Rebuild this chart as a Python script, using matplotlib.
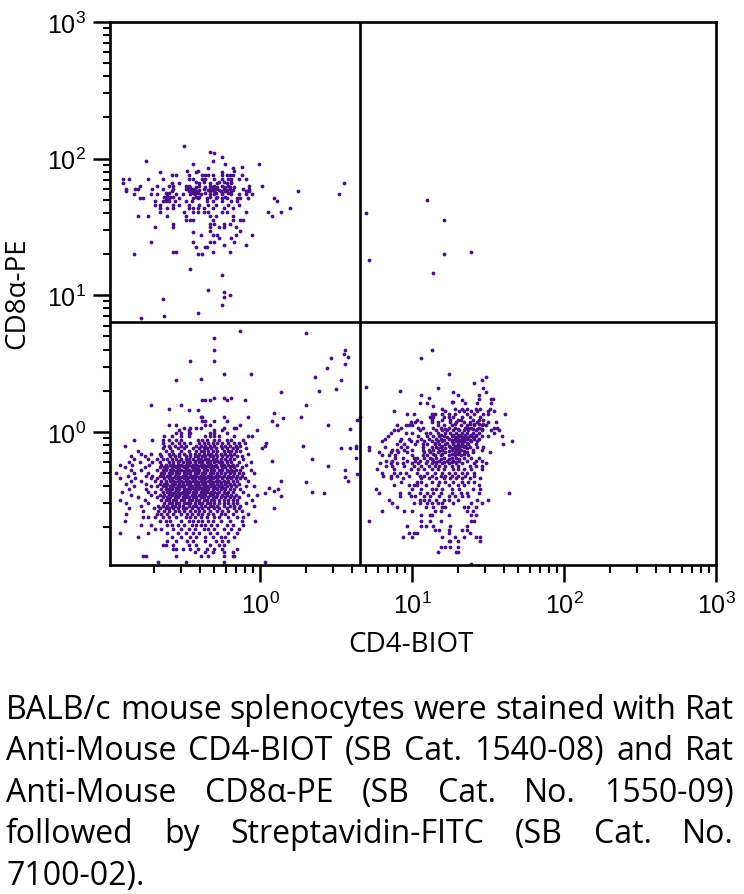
import matplotlib
matplotlib.use("Agg")
import matplotlib.pyplot as plt
from matplotlib.ticker import LogLocator, NullFormatter

# every row: log10(CD8a-PE) level first, then log10(CD4-BIOT) of the events on it
upper_left_rows = [
    [2.09, -0.50], [2.05, -0.33], [2.04, -0.30], [2.01, -0.25],
    [1.98, -0.75, -0.31], [1.96, -0.44, -0.23, -0.01], [1.94, -0.12],
    [1.93, -0.34, -0.18], [1.91, -0.48, -0.41, -0.17], [1.90, -0.66, -0.42, -0.25],
    [1.88, -0.58, -0.55, -0.47, -0.38, -0.36, -0.34, -0.31, -0.25, -0.22, -0.20, -0.18, -0.12],
    [1.85, -0.90, -0.86, -0.74, -0.64, -0.47, -0.44, -0.38, -0.36, -0.30, -0.25, -0.21, -0.19, -0.14, -0.09],
    [1.83, -0.42, -0.37, -0.27, -0.24, -0.19],
    [1.82, -0.90, -0.58, -0.53, -0.40, -0.33, -0.28, -0.22, -0.19, 0.55],
    [1.80, -0.79, -0.68, -0.60, -0.57, -0.49, -0.47, -0.40, -0.33, -0.30, -0.25, -0.21, -0.07, 0.01],
    [1.79, -0.48, -0.46, -0.42, -0.36, -0.31, -0.28, -0.23, -0.20, -0.17],
    [1.78, -0.88, -0.82, -0.80, -0.71, -0.64, -0.57, -0.49, -0.47, -0.44, -0.37, -0.33, -0.29, -0.24, -0.20, -0.11, -0.07],
    [1.77, -0.46, -0.43, -0.40, -0.34, -0.31, -0.27, -0.22, -0.18],
    [1.76, -0.88, -0.58, -0.47, -0.45, -0.42, -0.33, -0.30, -0.26, -0.23, -0.19, -0.09, -0.07, 0.25],
    [1.75, -0.62, -0.60, -0.44, -0.41, -0.36, -0.29, -0.25, -0.21],
    [1.74, -0.83, -0.72, -0.68, -0.61, -0.55, -0.51, -0.46, -0.43, -0.39, -0.33, -0.30, -0.25, -0.19, -0.14, -0.09, -0.05, 0.52],
    [1.72, -0.63, -0.61, -0.59, -0.57, -0.42, -0.40, -0.33, -0.28, -0.23],
    [1.71, -0.79, -0.77, -0.62, -0.60, -0.53, -0.44, -0.41, -0.35, -0.29, -0.25, -0.22, -0.15, -0.13, -0.08, 0.09],
    [1.69, -0.69, -0.64, -0.62, -0.60, -0.56, -0.49, -0.45, -0.35, -0.31, -0.25, -0.19, -0.15, 0.11],
    [1.66, -0.69, -0.66, -0.57, -0.53, -0.47, -0.40, -0.34, -0.29, -0.21, -0.14],
    [1.64, -0.66, -0.61, -0.57, -0.47, -0.44, -0.41, -0.37, -0.31, -0.24, -0.18, 0.20],
    [1.61, -0.66, -0.50, -0.44, -0.41, -0.37, -0.34, -0.25, -0.22, -0.09, 0.05, 0.14],
    [1.58, -0.80, -0.74, -0.61, -0.49, -0.33, -0.29, -0.18, 0.08],
    [1.55, -0.49, -0.46, -0.44, -0.31, -0.18, -0.13, -0.11],
    [1.52, -0.57, -0.33, -0.30, -0.24, -0.20], [1.50, -0.69, -0.57, -0.33, -0.27, -0.24, -0.16],
    [1.47, -0.33, -0.13], [1.46, -0.44], [1.44, -0.39, -0.31, -0.28, -0.16, -0.05],
    [1.42, -0.27, -0.19], [1.39, -0.72, -0.44, -0.33, -0.30, -0.17], [1.37, -0.24, -0.09],
    [1.35, -0.42, -0.36, -0.35], [1.32, -0.57, -0.55, -0.31, -0.20], [1.30, -0.41, -0.83, -0.38],
    [1.19, -0.46], [1.15, -0.25], [1.04, -0.34], [1.02, -0.24], [1.00, -0.20], [0.99, -0.24],
    [0.97, -0.64], [0.93, -0.25], [0.87, -0.41], [0.85, -0.63], [0.83, -0.78],
]

upper_right_rows = [
    [1.70, 1.10], [1.60, 0.70], [1.55, 1.21], [1.32, 1.39], [1.30, 1.21], [1.26, 0.72], [1.16, 1.14],
]

lower_left_rows = [
    [0.74, -0.13], [0.72, 0.30], [0.69, -0.30], [0.60, -0.30, 0.56], [0.57, 0.55], [0.55, 0.58],
    [0.54, 0.47], [0.52, -0.46, -0.30], [0.50, 0.56], [0.47, 0.44],
    [0.42, -0.24, -0.06], [0.40, 0.36], [0.39, -0.39], [0.38, -0.55, 0.53], [0.31, 0.50], [0.30, 0.39],
    [0.29, 0.14], [0.25, -0.30, -0.24, -0.19], [0.23, -0.38, -0.36, -0.33, -0.22, -0.10],
    [0.20, -0.72, -0.52, 0.30], [0.17, -0.60], [0.16, -0.47, -0.41], [0.14, 0.09],
    [0.11, -0.39, -0.38, -0.24, -0.08, 0.27, 0.66], [0.10, 0.15],
    [0.08, -0.38, -0.36, -0.30, -0.22, 0.08],
    [0.05, -0.60, -0.55, -0.36, -0.33, -0.13, 0.11, 0.45],
    [0.03, -0.50, -0.46, -0.42, -0.39, -0.24, -0.17, -0.16],
    [0.02, 0.59],
    [0.01, -0.53, -0.47, -0.30, -0.25, -0.02],
    [-0.01, -0.55, -0.52, -0.47, -0.46, -0.33, -0.30, -0.22],
    [-0.03, -0.63, -0.58, -0.52, -0.47, -0.36, -0.33, -0.30, -0.27, -0.17, -0.08, -0.05],
    [-0.06, -0.83, -0.71, -0.64, -0.60, -0.55, -0.52, -0.41, -0.38, -0.35, -0.30, -0.27, -0.22, -0.19, -0.11],
    [-0.08, -0.64, -0.58, -0.53, -0.50, -0.46, -0.40, -0.37, -0.34, -0.31, -0.28, -0.25, -0.21, -0.17, -0.14, -0.10, 0.04],
    [-0.10, -0.89, -0.63, -0.60, -0.56, -0.52, -0.49, -0.42, -0.39, -0.36, -0.33, -0.30, -0.26, -0.23, -0.20, -0.16, -0.13, 0.03, 0.28, 0.63],
    [-0.12, -0.64, -0.59, -0.54, -0.50, -0.44, -0.40, -0.37, -0.35, -0.32, -0.29, -0.25, -0.22, -0.18, -0.15, -0.09, 0.01, 0.53, 0.59, 0.63],
    [-0.14, -0.80, -0.62, -0.58, -0.52, -0.47, -0.42, -0.39, -0.37, -0.34, -0.31, -0.28, -0.24, -0.21, -0.19, -0.16, -0.13],
    [-0.16, -0.78, -0.72, -0.66, -0.60, -0.57, -0.53, -0.50, -0.46, -0.43, -0.40, -0.37, -0.34, -0.32, -0.29, -0.26, -0.23, -0.20, -0.17, -0.08],
    [-0.18, -0.85, -0.76, -0.65, -0.59, -0.56, -0.53, -0.49, -0.46, -0.43, -0.41, -0.38, -0.36, -0.33, -0.31, -0.28, -0.25, -0.22, -0.19, -0.15, -0.12],
    [-0.20, -0.83, -0.74, -0.68, -0.64, -0.61, -0.58, -0.55, -0.52, -0.49, -0.47, -0.44, -0.41, -0.39, -0.36, -0.34, -0.31, -0.29, -0.26, -0.23, -0.20, -0.17, -0.11, 0.34],
    [-0.21, -0.53, -0.48, -0.43, -0.38, -0.33, -0.28, -0.22, 0.08],
    [-0.22, -0.86, -0.79, -0.71, -0.66, -0.60, -0.57, -0.54, -0.51, -0.48, -0.46, -0.43, -0.40, -0.38, -0.35, -0.33, -0.30, -0.27, -0.25, -0.22, -0.19, -0.14, -0.06],
    [-0.24, -0.92, -0.84, -0.73, -0.65, -0.62, -0.59, -0.57, -0.54, -0.52, -0.49, -0.47, -0.44, -0.42, -0.39, -0.37, -0.34, -0.32, -0.29, -0.26, -0.24, -0.21, -0.18, -0.15, -0.09],
    [-0.25, -0.56, -0.51, -0.45, -0.41, -0.35, -0.30, -0.25, -0.19, 0.45],
    [-0.26, -0.89, -0.76, -0.66, -0.63, -0.61, -0.58, -0.55, -0.53, -0.50, -0.48, -0.45, -0.43, -0.41, -0.38, -0.36, -0.33, -0.31, -0.28, -0.25, -0.23, -0.20, -0.17, -0.12],
    [-0.28, -0.85, -0.78, -0.68, -0.64, -0.62, -0.59, -0.57, -0.54, -0.52, -0.49, -0.47, -0.44, -0.42, -0.40, -0.37, -0.35, -0.32, -0.30, -0.27, -0.25, -0.22, -0.19, -0.16, -0.13, -0.06, 0.56],
    [-0.29, -0.55, -0.50, -0.46, -0.41, -0.36, -0.31, -0.26, -0.21, -0.18],
    [-0.30, -0.95, -0.83, -0.74, -0.65, -0.63, -0.60, -0.58, -0.55, -0.53, -0.50, -0.48, -0.46, -0.43, -0.41, -0.38, -0.36, -0.33, -0.31, -0.28, -0.26, -0.23, -0.20, -0.17, -0.14, -0.11, -0.04],
    [-0.31, 0.64],
    [-0.32, -0.87, -0.75, -0.71, -0.66, -0.64, -0.61, -0.59, -0.56, -0.54, -0.51, -0.49, -0.46, -0.44, -0.42, -0.39, -0.37, -0.34, -0.32, -0.29, -0.27, -0.24, -0.21, -0.18, -0.15, -0.12],
    [-0.33, -0.56, -0.52, -0.47, -0.43, -0.40, -0.35, -0.30, -0.25, -0.20, 0.56],
    [-0.34, -0.92, -0.82, -0.72, -0.68, -0.63, -0.60, -0.58, -0.55, -0.53, -0.50, -0.48, -0.45, -0.43, -0.40, -0.38, -0.36, -0.33, -0.31, -0.28, -0.25, -0.22, -0.19, -0.16, -0.13, -0.10],
    [-0.36, -0.85, -0.78, -0.69, -0.65, -0.62, -0.59, -0.57, -0.54, -0.52, -0.49, -0.47, -0.44, -0.42, -0.39, -0.37, -0.34, -0.32, -0.29, -0.27, -0.24, -0.21, -0.18, -0.15, -0.08, 0.14, 0.58],
    [-0.37, -0.56, -0.51, -0.46, -0.41, -0.36, -0.31, -0.26, -0.22, 0.30],
    [-0.38, -0.88, -0.75, -0.66, -0.63, -0.61, -0.58, -0.56, -0.53, -0.51, -0.48, -0.46, -0.43, -0.41, -0.38, -0.36, -0.33, -0.31, -0.28, -0.26, -0.23, -0.20, -0.17, -0.14],
    [-0.40, -0.83, -0.72, -0.68, -0.64, -0.62, -0.59, -0.57, -0.54, -0.52, -0.50, -0.47, -0.45, -0.42, -0.40, -0.37, -0.35, -0.32, -0.30, -0.27, -0.25, -0.22, -0.19, -0.16, -0.09, -0.04],
    [-0.41, -0.55, -0.50, -0.44, -0.39, -0.34, -0.29, -0.24, 0.06],
    [-0.42, -0.86, -0.75, -0.65, -0.62, -0.60, -0.58, -0.55, -0.53, -0.50, -0.48, -0.46, -0.43, -0.41, -0.38, -0.36, -0.34, -0.31, -0.28, -0.26, -0.23, -0.20, -0.17, -0.13, 0.12],
    [-0.43, 0.09],
    [-0.44, -0.91, -0.74, -0.69, -0.64, -0.61, -0.59, -0.56, -0.54, -0.51, -0.49, -0.47, -0.44, -0.42, -0.39, -0.37, -0.35, -0.32, -0.30, -0.27, -0.24, -0.21, -0.18, -0.11, 0.34],
    [-0.45, -0.57, -0.52, -0.48, -0.43, -0.38, -0.33, -0.28, -0.23, 0.03, 0.42],
    [-0.46, -0.85, -0.72, -0.66, -0.63, -0.60, -0.58, -0.55, -0.53, -0.50, -0.48, -0.45, -0.43, -0.40, -0.38, -0.36, -0.33, -0.31, -0.28, -0.25, -0.22, -0.19, -0.16, -0.08, -0.02],
    [-0.47, 0.14],
    [-0.48, -0.80, -0.68, -0.64, -0.61, -0.59, -0.56, -0.54, -0.51, -0.49, -0.47, -0.44, -0.42, -0.39, -0.37, -0.34, -0.31, -0.29, -0.26, -0.23, -0.20, -0.17, -0.14],
    [-0.50, -0.92, -0.76, -0.65, -0.62, -0.60, -0.57, -0.55, -0.52, -0.50, -0.47, -0.45, -0.42, -0.40, -0.37, -0.35, -0.32, -0.30, -0.27, -0.24, -0.21, -0.18, -0.15, -0.05],
    [-0.52, -0.88, -0.74, -0.63, -0.60, -0.58, -0.55, -0.53, -0.50, -0.48, -0.46, -0.43, -0.40, -0.38, -0.35, -0.33, -0.30, -0.27, -0.24, -0.21, -0.18, -0.15, -0.09],
    [-0.54, -0.78, -0.67, -0.64, -0.61, -0.58, -0.56, -0.53, -0.51, -0.47, -0.44, -0.42, -0.39, -0.36, -0.33, -0.31, -0.28, -0.24, -0.20, -0.17, -0.13, -0.04],
    [-0.56, -0.86, -0.70, -0.66, -0.62, -0.60, -0.57, -0.54, -0.51, -0.49, -0.45, -0.41, -0.38, -0.34, -0.30, -0.27, -0.22, -0.17, -0.14, 0.09],
    [-0.58, -0.77, -0.67, -0.63, -0.60, -0.56, -0.53, -0.50, -0.46, -0.43, -0.40, -0.37, -0.33, -0.28, -0.25, -0.21, -0.16, -0.12],
    [-0.60, -1.03, -0.88, -0.68, -0.65, -0.61, -0.57, -0.52, -0.48, -0.45, -0.41, -0.38, -0.34, -0.31, -0.26, -0.23, -0.18, -0.08],
    [-0.62, -0.77, -0.74, -0.69, -0.64, -0.60, -0.55, -0.49, -0.46, -0.43, -0.39, -0.35, -0.30, -0.27, -0.21, -0.15, -0.11],
    [-0.65, -0.89, -0.66, -0.62, -0.59, -0.52, -0.47, -0.44, -0.41, -0.38, -0.34, -0.31, -0.26, -0.20, -0.12, -0.03],
    [-0.68, -0.78, -0.72, -0.61, -0.58, -0.54, -0.50, -0.45, -0.42, -0.39, -0.36, -0.32, -0.28, -0.22, -0.18, -0.11],
    [-0.71, -0.69, -0.65, -0.57, -0.52, -0.47, -0.43, -0.37, -0.34, -0.30, -0.24, -0.19, -0.14],
    [-0.74, -0.92, -0.74, -0.61, -0.54, -0.49, -0.44, -0.40, -0.33, -0.28, -0.21, -0.15],
    [-0.77, -0.80, -0.58, -0.52, -0.46, -0.42, -0.36, -0.31, -0.26, -0.23, -0.17],
    [-0.80, -0.61, -0.55, -0.48, -0.44, -0.36, -0.29, -0.25, -0.21],
    [-0.83, -0.64, -0.62, -0.57, -0.47, -0.42, -0.33, -0.27, -0.24],
    [-0.86, -0.57, -0.55, -0.51, -0.46, -0.41, -0.35, -0.30, -0.25, -0.15],
    [-0.88, -0.43, -0.36, -0.31, -0.24, -0.18],
    [-0.91, -0.77, -0.75, -0.55, -0.39, -0.34, -0.24, -0.18, -0.17],
    [-0.95, -0.67, -0.49, -0.24, 0.03],
]

lower_right_rows = [
    [0.60, 1.13], [0.54, 1.06], [0.42, 1.24], [0.40, 1.49], [0.38, 1.46], [0.36, 1.41], [0.33, 0.70],
    [0.32, 1.17, 1.47], [0.30, 0.92], [0.29, 1.27, 1.49], [0.27, 1.06, 1.30, 1.44], [0.25, 1.11],
    [0.24, 1.44, 1.52, 1.53], [0.23, 1.33], [0.22, 1.26, 1.27], [0.21, 1.05, 1.10, 1.35, 1.43, 1.52], [0.19, 1.14],
    [0.17, 1.20, 1.28, 1.33, 1.36, 1.42, 1.45, 1.51],
    [0.15, 0.88, 1.22, 1.31, 1.34, 1.39, 1.43, 1.50, 1.54],
    [0.13, 0.97, 1.01, 1.13, 1.15, 1.20, 1.24, 1.28, 1.36, 1.41, 1.47, 1.50, 1.61],
    [0.11, 1.12, 1.14, 1.21, 1.24, 1.27, 1.33, 1.38, 1.45],
    [0.09, 1.03, 1.13, 1.20, 1.25, 1.30, 1.32, 1.40, 1.44, 1.47, 0.64],
    [0.07, 0.99, 1.02, 1.06, 1.13, 1.17, 1.25, 1.29, 1.34, 1.38, 1.43, 1.50, 1.55],
    [0.06, 1.28, 1.38, 1.41, 1.44, 1.47],
    [0.05, 0.90, 0.96, 0.98, 1.00, 1.17, 1.21, 1.26, 1.32, 1.36, 1.41, 1.46, 1.49],
    [0.03, 0.93, 1.04, 1.07, 1.14, 1.19, 1.24, 1.28, 1.35, 1.37, 1.39, 1.44, 1.54, 1.56],
    [0.02, 1.22, 1.30, 1.40, 1.43, 1.46],
    [0.01, 0.88, 0.91, 1.05, 1.16, 1.20, 1.23, 1.27, 1.31, 1.34, 1.37, 1.42, 1.46, 1.52, 1.57],
    [-0.01, 0.86, 0.96, 1.00, 1.09, 1.12, 1.17, 1.22, 1.25, 1.29, 1.33, 1.36, 1.40, 1.44, 1.54],
    [-0.02, 1.19, 1.27, 1.31, 1.35, 1.39, 1.42],
    [-0.03, 0.84, 1.04, 1.10, 1.14, 1.18, 1.21, 1.26, 1.30, 1.32, 1.35, 1.38, 1.42, 1.46, 1.50, 1.59],
    [-0.04, 1.23, 1.28, 1.34, 1.37, 1.40],
    [-0.05, 0.82, 0.93, 0.98, 1.06, 1.11, 1.16, 1.19, 1.24, 1.28, 1.30, 1.33, 1.36, 1.41, 1.44],
    [-0.06, 1.21, 1.26, 1.32, 1.34, 1.38],
    [-0.07, 0.80, 0.92, 0.99, 1.03, 1.08, 1.13, 1.17, 1.20, 1.26, 1.29, 1.31, 1.34, 1.39, 1.43, 1.66],
    [-0.08, 1.15, 1.23, 1.27, 1.33, 1.36],
    [-0.09, 0.90, 0.95, 1.02, 1.07, 1.10, 1.15, 1.18, 1.22, 1.27, 1.30, 1.33, 1.37, 1.42, 1.60],
    [-0.10, 1.20, 1.24, 1.29, 1.32, 1.35],
    [-0.11, 0.72, 0.82, 0.93, 0.97, 1.07, 1.13, 1.16, 1.19, 1.25, 1.28, 1.31, 1.34, 1.38, 1.43, 1.47],
    [-0.12, 1.17, 1.22, 1.27, 1.30, 1.36],
    [-0.13, 0.72, 0.87, 0.90, 0.95, 1.00, 1.07, 1.11, 1.14, 1.20, 1.26, 1.29, 1.32, 1.40, 1.46],
    [-0.14, 1.18, 1.24, 1.31, 1.34],
    [-0.15, 0.78, 0.86, 0.91, 0.97, 1.08, 1.12, 1.17, 1.22, 1.28, 1.31, 1.36, 1.40, 1.51],
    [-0.16, 1.14, 1.20, 1.26, 1.30, 1.34],
    [-0.17, 0.80, 0.85, 0.89, 1.00, 1.07, 1.10, 1.15, 1.19, 1.24, 1.28, 1.32, 1.37],
    [-0.19, 0.63, 0.89, 0.94, 1.01, 1.03, 1.08, 1.12, 1.16, 1.21, 1.26, 1.29, 1.34, 1.39, 1.44],
    [-0.20, 1.13, 1.19, 1.24, 1.31],
    [-0.21, 0.83, 0.87, 0.97, 1.02, 1.05, 1.10, 1.14, 1.18, 1.23, 1.27, 1.31, 1.36, 1.42, 1.46],
    [-0.22, 1.16, 1.21, 1.26, 1.29],
    [-0.23, 0.79, 0.86, 0.90, 0.94, 1.00, 1.04, 1.09, 1.13, 1.16, 1.20, 1.24, 1.29, 1.33, 1.41, 1.49],
    [-0.25, 0.83, 0.87, 0.95, 1.01, 1.06, 1.11, 1.15, 1.18, 1.22, 1.26, 1.30, 1.38, 1.42, 1.46],
    [-0.27, 0.77, 0.88, 0.99, 1.04, 1.08, 1.13, 1.17, 1.21, 1.27, 1.30, 1.34, 1.39, 1.46],
    [-0.30, 0.80, 0.88, 0.92, 0.96, 1.03, 1.10, 1.15, 1.20, 1.24, 1.28, 1.33, 1.36, 1.41],
    [-0.32, 0.81, 0.86, 0.90, 0.98, 1.05, 1.08, 1.13, 1.19, 1.22, 1.26, 1.30, 1.35, 1.41],
    [-0.34, 0.86, 0.94, 1.06, 1.11, 1.16, 1.21, 1.25, 1.29, 1.33, 1.38, 1.45],
    [-0.37, 0.93, 1.03, 1.06, 1.13, 1.18, 1.22, 1.27, 1.33, 1.37, 1.41],
    [-0.39, 0.88, 0.98, 1.01, 1.03, 1.09, 1.17, 1.24, 1.30, 1.34, 1.44],
    [-0.42, 0.76, 1.00, 1.06, 1.13, 1.16, 1.20, 1.26, 1.31, 1.40, 1.45],
    [-0.45, 0.78, 0.92, 0.98, 1.05, 1.10, 1.14, 1.19, 1.26, 1.32, 1.36, 1.44, 1.64],
    [-0.47, 0.92, 0.99, 1.02, 1.08, 1.12, 1.18, 1.24, 1.28, 1.33, 1.37],
    [-0.50, 0.85, 1.05, 1.08, 1.11, 1.16, 1.21, 1.24, 1.30, 1.43, 1.50],
    [-0.52, 0.87, 1.01, 1.05, 1.10, 1.13, 1.17, 1.20, 1.27, 1.39, 1.46],
    [-0.55, 0.90, 1.09, 1.14, 1.20, 1.22, 1.34, 1.37, 1.42],
    [-0.58, 0.80, 0.95, 1.00, 1.15, 1.19, 1.36, 1.40],
    [-0.61, 1.06, 1.12, 1.13, 1.24, 1.39, 1.42],
    [-0.65, 0.72, 1.06, 1.12, 1.19, 1.41, 1.39],
    [-0.69, 0.97, 1.06, 1.09, 1.14, 1.25, 1.36],
    [-0.72, 1.15, 1.18, 1.24, 1.33, 1.36],
    [-0.74, 0.98, 1.01, 1.03, 1.24, 1.38],
    [-0.77, 0.94, 1.00, 1.20, 1.28, 1.34, 1.42, 1.45],
    [-0.80, 1.24, 1.25, 1.30, 1.45],
    [-0.84, 1.19, 1.22, 1.25, 1.30],
    [-0.88, 1.17, 1.29, 1.30],
    [-0.97, 1.39],
]

x_ticks = [1, 10, 100, 1000]
y_ticks = [1, 10, 100, 1000]
tick_exponents = [0, 1, 2, 3]
gate_x = 4.55
gate_y = 6.4
x_label = "CD4-BIOT"
y_label = "CD8α-PE"
caption_lines = [
    "BALB/c mouse splenocytes were stained with Rat",
    "Anti-Mouse CD4-BIOT (SB Cat. 1540-08) and Rat",
    "Anti-Mouse CD8α-PE (SB Cat. No. 1550-09)",
    "followed by Streptavidin-FITC (SB Cat. No.",
    "7100-02).",
]
DOT_COLOR = "#4a1086"
CAPTION_FONT = "Open Sans"
CAPTION_SIZE = 23


def unpack(rows):
    xs, ys = [], []
    for row in rows:
        for log_x in row[1:]:
            xs.append(10 ** log_x)
            ys.append(10 ** row[0])
    return xs, ys


def draw_justified(fig, words, baseline, left, right, justify):
    # lay the words of one caption line out between left and right (pixels)
    renderer = fig.canvas.get_renderer()
    items = [fig.text(0, 1 - baseline / 895, w, fontsize=CAPTION_SIZE, family=CAPTION_FONT, va="baseline", color="black") for w in words]
    widths = [t.get_window_extent(renderer).width for t in items]
    if justify and len(words) > 1:
        gap = (right - left - sum(widths)) / (len(words) - 1)
    else:
        gap = 7
    x = left
    for t, w in zip(items, widths):
        t.set_x(x / 744)
        x += w + gap


plt.rcParams["font.family"] = ["Liberation Sans", "DejaVu Sans"]
plt.rcParams["mathtext.fontset"] = "custom"
plt.rcParams["mathtext.rm"] = "Liberation Sans"

fig = plt.figure(figsize=(7.44, 8.95), dpi=100)
ax = fig.add_axes([110 / 744, 1 - 566 / 895, 606 / 744, 543 / 895])

for rows in (upper_left_rows, upper_right_rows, lower_left_rows, lower_right_rows):
    xs, ys = unpack(rows)
    ax.scatter(xs, ys, s=7.5, color=DOT_COLOR, linewidths=0, zorder=2)

ax.axvline(gate_x, color="black", lw=1.9, zorder=3)
ax.axhline(gate_y, color="black", lw=1.9, zorder=3)

ax.set_xscale("log")
ax.set_yscale("log")
ax.set_xlim(0.103, 1000)
ax.set_ylim(0.106, 1000)

for axis, ticks in ((ax.xaxis, x_ticks), (ax.yaxis, y_ticks)):
    axis.set_major_locator(LogLocator(base=10, numticks=6))
    axis.set_minor_locator(LogLocator(base=10, subs=range(2, 10), numticks=6))
    axis.set_minor_formatter(NullFormatter())
    axis.set_ticks(ticks)
    axis.set_ticklabels([rf"$\mathregular{{10^{{{e}}}}}$" for e in tick_exponents])
ax.tick_params(which="major", length=12.2, width=1.8, labelsize=18, pad=5)
ax.tick_params(axis="x", which="major", pad=7)
ax.tick_params(which="minor", length=5.4, width=1.5)
for spine in ax.spines.values():
    spine.set_linewidth(1.9)

fig.text(411 / 744, 1 - 645 / 895, x_label, fontsize=20, family=CAPTION_FONT, ha="center", va="center", color="black")
fig.text(17 / 744, 1 - 293 / 895, y_label, fontsize=20, family=CAPTION_FONT, rotation=90, ha="center", va="center", color="black")

fig.canvas.draw()
for i, line in enumerate(caption_lines):
    draw_justified(fig, line.split(), 719 + i * 41.5, 6, 734, i < len(caption_lines) - 1)

fig.savefig("out.png", dpi=100)
plt.close(fig)
